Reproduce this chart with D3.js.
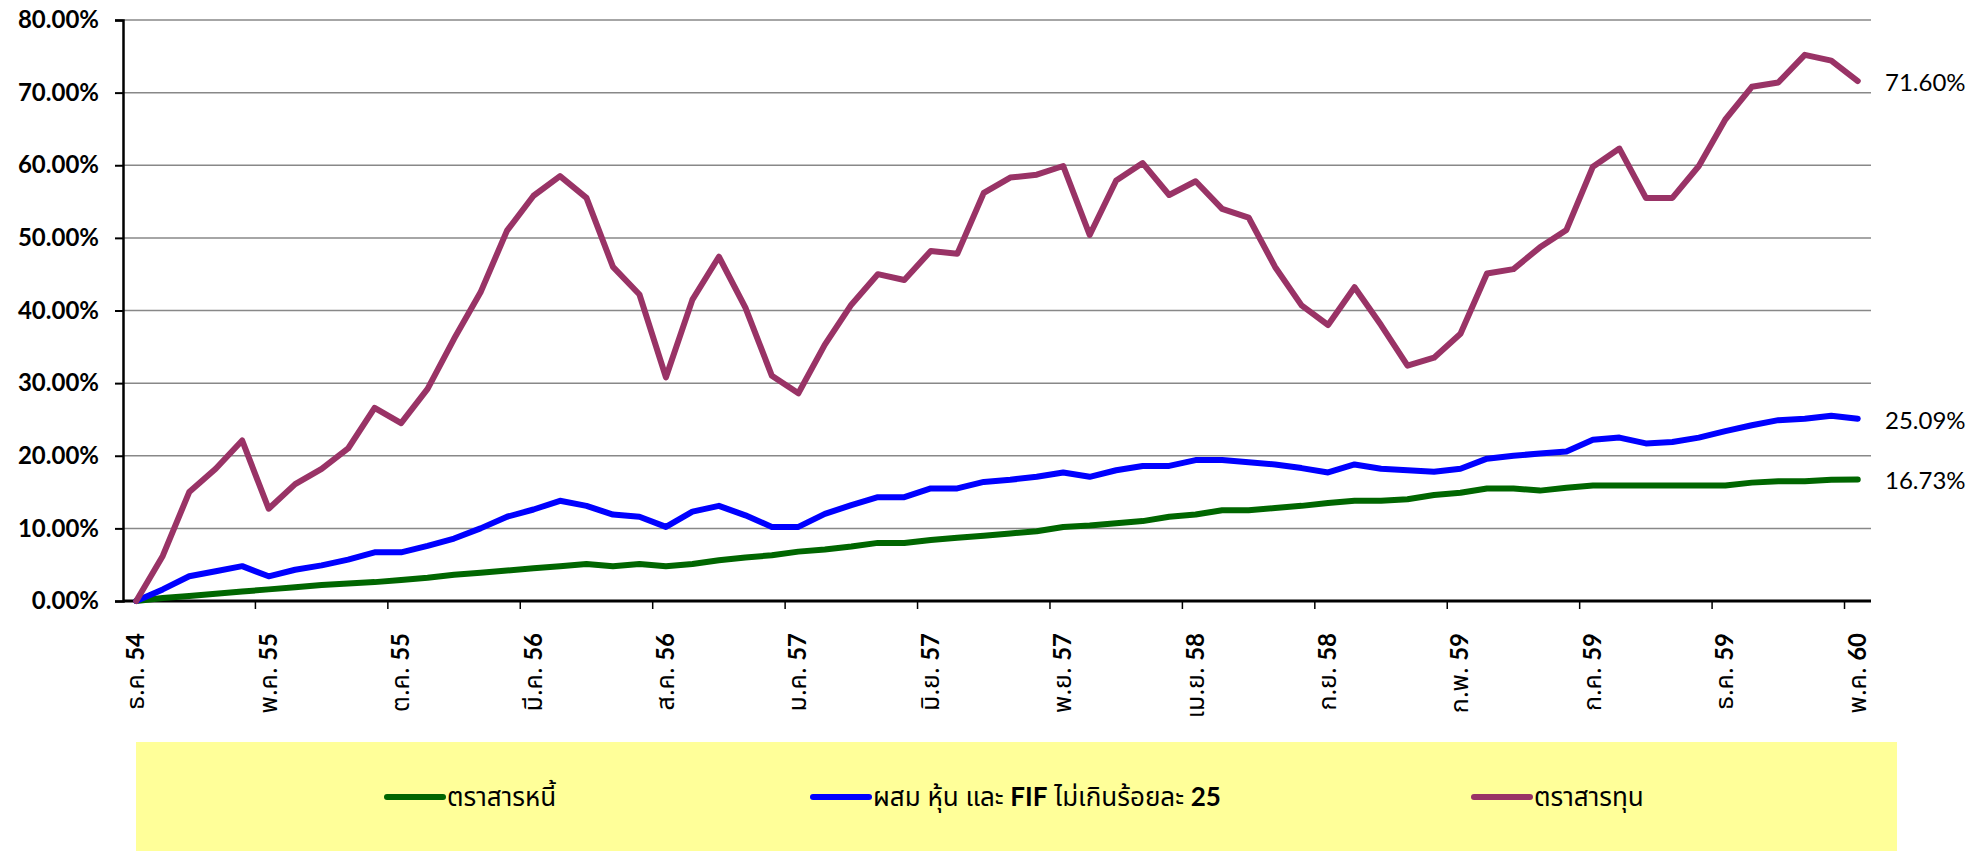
<!DOCTYPE html>
<html>
<head>
<meta charset="utf-8">
<script src="https://cdn.jsdelivr.net/npm/d3@7"></script>
<style>
  body { margin: 0; background: #fff; }
  svg { display: block; }
</style>
</head>
<body>
<div id="chart"></div>
<script>
const thaiMonths = ["ม.ค.", "ก.พ.", "มี.ค.", "เม.ย.", "พ.ค.", "มิ.ย.", "ก.ค.", "ส.ค.", "ก.ย.", "ต.ค.", "พ.ย.", "ธ.ค."];

// 66 months, ธ.ค. 54 .. พ.ค. 60
const categories = [];
for (let k = 0; k < 66; k++) {
	const m = (11 + k) % 12;
	const y = 54 + Math.floor((11 + k) / 12);
	categories.push({ month: thaiMonths[m], year: String(y) });
}

const yTicks = [0, 0.1, 0.2, 0.3, 0.4, 0.5, 0.6, 0.7, 0.8];

// values in %
const debt = [0, 0.4, 0.7, 1.0, 1.3, 1.6, 1.9, 2.2, 2.4, 2.6,
	2.9, 3.2, 3.6, 3.9, 4.2, 4.5, 4.8, 5.1, 4.8, 5.1,
	4.8, 5.1, 5.6, 6.0, 6.3, 6.8, 7.1, 7.5, 8.0, 8.0,
	8.4, 8.7, 9.0, 9.3, 9.6, 10.2, 10.4, 10.7, 11.0, 11.6,
	11.9, 12.5, 12.5, 12.8, 13.1, 13.5, 13.8, 13.8, 14.0, 14.6,
	14.9, 15.5, 15.5, 15.2, 15.6, 15.9, 15.9, 15.9, 15.9, 15.9,
	15.9, 16.3, 16.5, 16.5, 16.7, 16.73];

const mixed = [0, 1.6, 3.4, 4.1, 4.8, 3.4, 4.3, 4.9, 5.7, 6.7,
	6.7, 7.6, 8.6, 10.0, 11.6, 12.6, 13.8, 13.1, 11.9, 11.6,
	10.2, 12.3, 13.1, 11.8, 10.2, 10.2, 12.0, 13.2, 14.3, 14.3,
	15.5, 15.5, 16.4, 16.7, 17.1, 17.7, 17.1, 18.0, 18.6, 18.6,
	19.4, 19.4, 19.1, 18.8, 18.3, 17.7, 18.8, 18.2, 18.0, 17.8,
	18.2, 19.6, 20.0, 20.3, 20.6, 22.2, 22.5, 21.7, 21.9, 22.5,
	23.4, 24.2, 24.9, 25.1, 25.5, 25.09];

const equity = [0, 6.2, 15.0, 18.2, 22.1, 12.7, 16.1, 18.2, 21.0, 26.6,
	24.5, 29.2, 36.1, 42.5, 51.0, 55.8, 58.5, 55.5, 46.0, 42.2,
	30.8, 41.5, 47.4, 40.4, 31.0, 28.6, 35.3, 40.8, 45.0, 44.2,
	48.2, 47.8, 56.2, 58.3, 58.7, 59.9, 50.4, 57.9, 60.3, 55.9,
	57.8, 54.0, 52.8, 46.0, 40.7, 38.0, 43.2, 38.0, 32.4, 33.5,
	36.8, 45.1, 45.7, 48.7, 51.1, 59.8, 62.3, 55.5, 55.5, 59.9,
	66.3, 70.8, 71.4, 75.2, 74.4, 71.6];

const seriesNames = ["ตราสารหนี้", "ผสม หุ้น และ FIF ไม่เกินร้อยละ 25", "ตราสารทุน"];
const seriesColors = ["#006600", "#0000FF", "#993366"];
const seriesValues = [debt, mixed, equity];

const w = 1976, h = 851;
const plot = { l: 123, r: 1871, t: 20, b: 601 };

const svg = d3.select("#chart").append("svg")
	.attr("width", w)
	.attr("height", h);

const xScale = d3.scaleBand()
	.domain(d3.range(categories.length))
	.range([plot.l, plot.r])
	.paddingInner(0)
	.paddingOuter(0);

const yScale = d3.scaleLinear()
	.domain([0, 0.8])
	.range([plot.b, plot.t]);

const numFont = "Lato, 'Open Sans', sans-serif";
const thaiFont = "Tahoma, 'Noto Sans Thai', 'Noto Sans', 'DejaVu Sans', sans-serif";

// gridlines
svg.append("g")
	.selectAll("line")
	.data(yTicks.slice(1))
	.join("line")
	.attr("x1", plot.l)
	.attr("x2", plot.r)
	.attr("y1", d => yScale(d))
	.attr("y2", d => yScale(d))
	.attr("stroke", "#888")
	.attr("stroke-width", 1.5);

// y axis
const yAxis = d3.axisLeft(yScale)
	.tickValues(yTicks)
	.tickSize(8)
	.tickPadding(16)
	.tickFormat(d => (d * 100).toFixed(2) + "%");
const yAxisG = svg.append("g")
	.attr("transform", `translate(${plot.l},0)`)
	.call(yAxis);
yAxisG.select(".domain").attr("stroke", "#000").attr("stroke-width", 2.5);
yAxisG.selectAll(".tick line").attr("stroke", "#000").attr("stroke-width", 2);
yAxisG.selectAll(".tick text")
	.attr("font-family", numFont)
	.attr("font-weight", "bold")
	.attr("font-size", 24)
	.attr("fill", "#000");

// x axis: ticks every 5 categories at band starts
const tickIdx = d3.range(0, categories.length, 5);
const xAxisG = svg.append("g");
xAxisG.append("line")
	.attr("x1", plot.l)
	.attr("x2", plot.r)
	.attr("y1", plot.b)
	.attr("y2", plot.b)
	.attr("stroke", "#000")
	.attr("stroke-width", 3);
xAxisG.selectAll(".xt")
	.data(tickIdx.filter(i => i > 0))
	.join("line")
	.attr("class", "xt")
	.attr("x1", i => xScale(i))
	.attr("x2", i => xScale(i))
	.attr("y1", plot.b)
	.attr("y2", plot.b + 8)
	.attr("stroke", "#000")
	.attr("stroke-width", 1.5);

const xLabels = xAxisG.selectAll(".xl")
	.data(tickIdx)
	.join("text")
	.attr("class", "xl")
	.attr("transform", i => `translate(${xScale(i) + xScale.bandwidth() / 2 + 8},${plot.b + 32}) rotate(-90)`)
	.attr("text-anchor", "end")
	.attr("font-size", 25)
	.attr("fill", "#000");
xLabels.append("tspan")
	.attr("font-family", thaiFont)
	.text(i => categories[i].month + " ");
xLabels.append("tspan")
	.attr("font-family", numFont)
	.attr("font-weight", "bold")
	.attr("font-size", 24)
	.text(i => categories[i].year);

// lines
const line = d3.line()
	.x((d, i) => xScale(i) + xScale.bandwidth() / 2)
	.y(d => yScale(d / 100));

svg.append("g")
	.selectAll("path")
	.data(seriesValues)
	.join("path")
	.attr("d", d => line(d))
	.attr("fill", "none")
	.attr("stroke", (d, i) => seriesColors[i])
	.attr("stroke-width", 6)
	.attr("stroke-linejoin", "round")
	.attr("stroke-linecap", "round");

// end labels
const lastIdx = categories.length - 1;
svg.append("g")
	.selectAll("text")
	.data(seriesValues)
	.join("text")
	.attr("x", 1885)
	.attr("y", d => yScale(d[lastIdx] / 100))
	.attr("dy", 10)
	.attr("font-family", numFont)
	.attr("font-size", 24)
	.attr("fill", "#000")
	.text(d => d[lastIdx].toFixed(2) + "%");

// legend
const legendG = svg.append("g");
legendG.append("rect")
	.attr("x", 136)
	.attr("y", 742)
	.attr("width", 1761)
	.attr("height", 115)
	.attr("fill", "#FFFF99");

const legendX = [387, 813, 1474];
const legendY = 797;
const items = legendG.selectAll(".li")
	.data(seriesNames)
	.join("g")
	.attr("class", "li")
	.attr("transform", (d, i) => `translate(${legendX[i]},${legendY})`);
items.append("line")
	.attr("x1", 0)
	.attr("x2", 56)
	.attr("stroke", (d, i) => seriesColors[i])
	.attr("stroke-width", 6)
	.attr("stroke-linecap", "round");
const legendText = items.append("text")
	.attr("x", 60)
	.attr("y", 9)
	.attr("font-family", thaiFont)
	.attr("font-size", 26)
	.attr("fill", "#000");
legendText.each(function (d) {
	const t = d3.select(this);
	// bold latin runs (FIF, 25)
	d.split(/(FIF|25)/).filter(s => s.length).forEach(part => {
		const sp = t.append("tspan").text(part);
		if (part === "FIF" || part === "25") sp.attr("font-weight", "bold").attr("font-family", numFont);
	});
});
</script>
</body>
</html>
